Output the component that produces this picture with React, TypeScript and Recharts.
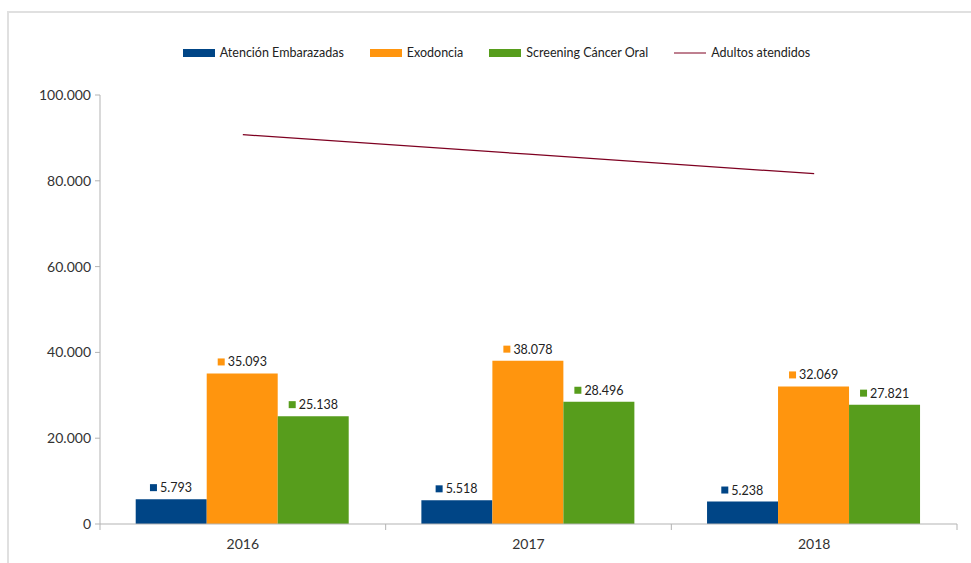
import React from 'react';
import { ComposedChart, Bar, Line, XAxis, YAxis, Legend, LabelList } from 'recharts';

const years = ['2016', '2017', '2018'];
const embarazadas = [5793, 5518, 5238];
const exodoncia = [35093, 38078, 32069];
const screening = [25138, 28496, 27821];
const adultos = [90750, 86200, 81650];
const yTicks = [0, 20000, 40000, 60000, 80000, 100000];

const seriesNames = {
  emb: 'Atención Embarazadas',
  exo: 'Exodoncia',
  scr: 'Screening Cáncer Oral',
  adu: 'Adultos atendidos',
};

const COLORS = { emb: '#004586', exo: '#ff950e', scr: '#579d1c', adu: '#7e0021' };

const data = years.map((y, i) => ({
  year: y,
  emb: embarazadas[i],
  exo: exodoncia[i],
  scr: screening[i],
  adu: adultos[i],
}));

const fmt = (v: number) => String(Math.round(v)).replace(/\B(?=(\d{3})+(?!\d))/g, '.');

const FONT = 'Lato, "Open Sans", sans-serif';
const W = 971;
const H = 563;
const M = { top: 95, right: 14, left: 40, bottom: 9 };
const Y_W = 60;
const BW = (W - M.left - Y_W - M.right) / years.length;

const makeLabel = (color: string) => (props: any) => {
  const { x, y, width, value } = props;
  const txt = fmt(value);
  const tw = txt.length * 6.5;
  const total = 7 + 3 + tw;
  const cx = x + width / 2;
  const left = cx - total / 2;
  return (
    <g>
      <rect x={left} y={y - 15} width={7} height={7} fill={color} />
      <text x={left + 10} y={y - 7} fontSize={12.5} fontFamily={FONT} fill="#222">
        {txt}
      </text>
    </g>
  );
};

const XTick = (props: any) => {
  const { x, y, payload, index } = props;
  const lx = x - BW / 2;
  const rx = x + BW / 2;
  return (
    <g>
      <line x1={lx} y1={y} x2={lx} y2={y + 6} stroke="#b3b3b3" />
      {index === years.length - 1 && <line x1={rx} y1={y} x2={rx} y2={y + 6} stroke="#b3b3b3" />}
      <text x={x} y={y + 25} textAnchor="middle" fontSize={14} fontFamily={FONT} fill="#333">
        {payload.value}
      </text>
    </g>
  );
};

const LegendContent = () => {
  const items = [
    { k: 'emb', type: 'rect' },
    { k: 'exo', type: 'rect' },
    { k: 'scr', type: 'rect' },
    { k: 'adu', type: 'line' },
  ] as const;
  return (
    <div style={{ display: 'flex', justifyContent: 'center', gap: 26, width: W, paddingLeft: 22, boxSizing: 'border-box', fontFamily: FONT, fontSize: 12.5, color: '#222' }}>
      {items.map((it) => (
        <div key={it.k} style={{ display: 'flex', alignItems: 'center' }}>
          <svg width={32} height={10} style={{ marginRight: 5 }}>
            {it.type === 'rect' ? (
              <rect x={0} y={1} width={32} height={8} fill={(COLORS as any)[it.k]} />
            ) : (
              <line x1={0} y1={5} x2={32} y2={5} stroke={(COLORS as any)[it.k]} strokeWidth={1} />
            )}
          </svg>
          <span>{(seriesNames as any)[it.k]}</span>
        </div>
      ))}
    </div>
  );
};

export default function App() {
  return (
    <div style={{ position: 'relative', width: W, height: H, background: '#fff', overflow: 'hidden' }}>
      <style>{`body{margin:0;background:#fff;}`}</style>
      <div
        style={{
          position: 'absolute',
          left: 7,
          top: 11,
          width: W,
          height: H,
          borderTop: '2px solid #e0e0e0',
          borderLeft: '2px solid #e0e0e0',
          boxSizing: 'border-box',
        }}
      />
      <div style={{ position: 'absolute', left: 0, top: 0 }}>
        <ComposedChart width={W} height={H} data={data} margin={M} barCategoryGap="12.5%" barGap={0}>
          <XAxis
            dataKey="year"
            axisLine={{ stroke: '#b3b3b3' }}
            tickLine={false}
            tickSize={0}
            tickMargin={0}
            tick={<XTick />}
            height={30}
            interval={0}
          />
          <YAxis
            width={Y_W}
            domain={[0, 100000]}
            ticks={yTicks}
            tickFormatter={fmt}
            axisLine={{ stroke: '#b3b3b3' }}
            tickLine={{ stroke: '#b3b3b3' }}
            tickSize={5}
            tickMargin={4}
            tick={{ fontSize: 14, fontFamily: FONT, fill: '#333' }}
            allowDataOverflow
          />
          <Legend
            verticalAlign="middle"
            layout="horizontal"
            content={<LegendContent />}
            wrapperStyle={{ top: 45, left: 0, width: W }}
          />
          <Bar dataKey="emb" name={seriesNames.emb} fill={COLORS.emb} isAnimationActive={false}>
            <LabelList dataKey="emb" content={makeLabel(COLORS.emb)} />
          </Bar>
          <Bar dataKey="exo" name={seriesNames.exo} fill={COLORS.exo} isAnimationActive={false}>
            <LabelList dataKey="exo" content={makeLabel(COLORS.exo)} />
          </Bar>
          <Bar dataKey="scr" name={seriesNames.scr} fill={COLORS.scr} isAnimationActive={false}>
            <LabelList dataKey="scr" content={makeLabel(COLORS.scr)} />
          </Bar>
          <Line
            dataKey="adu"
            name={seriesNames.adu}
            stroke={COLORS.adu}
            strokeWidth={1.2}
            dot={false}
            activeDot={false}
            isAnimationActive={false}
          />
        </ComposedChart>
      </div>
    </div>
  );
}
